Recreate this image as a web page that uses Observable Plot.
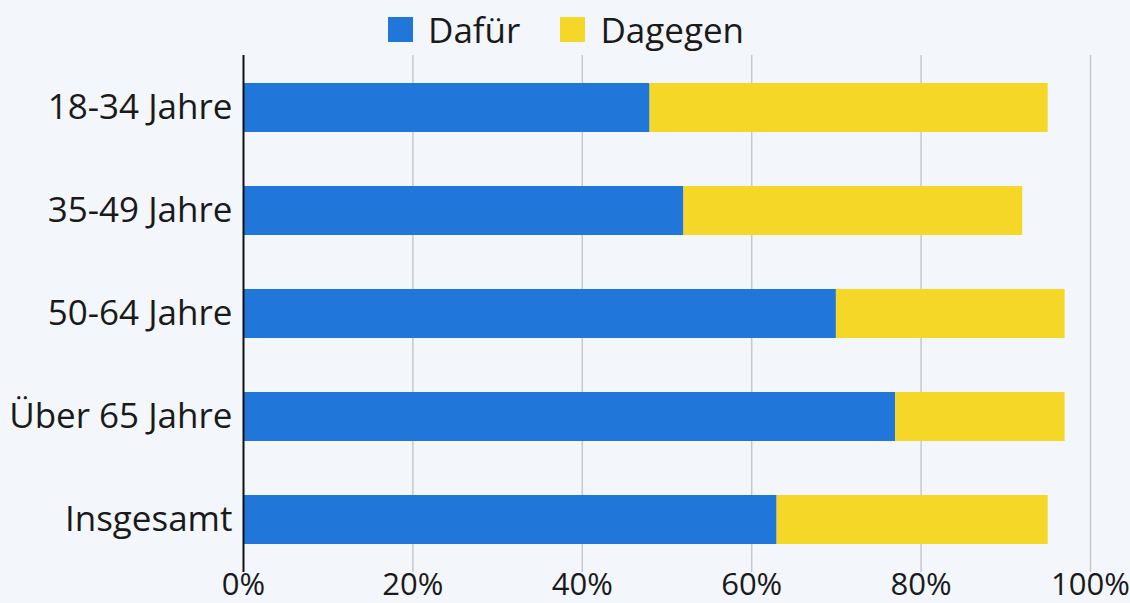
<!DOCTYPE html>
<html>
<head>
<meta charset="utf-8">
<script src="https://cdn.jsdelivr.net/npm/d3@7"></script>
<script src="https://cdn.jsdelivr.net/npm/@observablehq/plot@0.6"></script>
<style>
  html, body { margin: 0; padding: 0; background: #f3f6fa; }
  body { width: 1130px; height: 603px; overflow: hidden; font-family: "Open Sans", sans-serif; }
  #legend { height: 54px; display: flex; justify-content: center; align-items: center; font-size: 35px; color: #1a1a1a; padding-left: 2px; padding-bottom: 0; padding-top: 4px; box-sizing: border-box; }
  .item { display: flex; align-items: center; margin: 0 20px; }
  .sw { width: 25px; height: 25px; margin-right: 15px; }
  #chart svg { display: block; }
</style>
</head>
<body>
<div id="legend"></div>
<div id="chart"></div>
<script>
const categories = ["18-34 Jahre", "35-49 Jahre", "50-64 Jahre", "Über 65 Jahre", "Insgesamt"];
const seriesNames = ["Dafür", "Dagegen"];
const seriesColors = ["#2176d9", "#f5d727"];
const dafuer = [48, 52, 70, 77, 63];
const dagegen = [47, 40, 27, 20, 32];
const xTicks = [0, 20, 40, 60, 80, 100];

const data = [];
categories.forEach((c, i) => {
  data.push({cat: c, series: seriesNames[0], value: dafuer[i]});
  data.push({cat: c, series: seriesNames[1], value: dagegen[i]});
});

const legend = document.getElementById("legend");
seriesNames.forEach((s, i) => {
  const it = document.createElement("div");
  it.className = "item";
  it.innerHTML = `<span class="sw" style="background:${seriesColors[i]}"></span><span>${s}</span>`;
  legend.appendChild(it);
});

const chart = Plot.plot({
  width: 1130,
  height: 549,
  marginLeft: 243,
  marginRight: 40,
  marginTop: 1,
  marginBottom: 31,
  style: {fontFamily: "Open Sans, sans-serif", fontSize: "35px", color: "#1a1a1a", background: "transparent", overflow: "visible"},
  x: {domain: [0, 100], ticks: xTicks, tickFormat: d => d + "%", tickSize: 0, tickPadding: 0, label: null},
  y: {domain: categories, paddingInner: 0.52, paddingOuter: 0.26, tickSize: 0, tickPadding: 11, label: null},
  color: {domain: seriesNames, range: seriesColors},
  marks: [
    Plot.gridX(xTicks.slice(1), {stroke: "#c8c8c8", strokeOpacity: 1, strokeWidth: 1.5}),
    Plot.barX(data, {y: "cat", x: "value", fill: "series"}),
    Plot.ruleX([0], {stroke: "#111", strokeWidth: 2}),
    Plot.axisX({ticks: xTicks, tickFormat: d => d + "%", tickSize: 0, tickPadding: 0, fontSize: 31, label: null})
  ]
});
document.getElementById("chart").appendChild(chart);
</script>
</body>
</html>
